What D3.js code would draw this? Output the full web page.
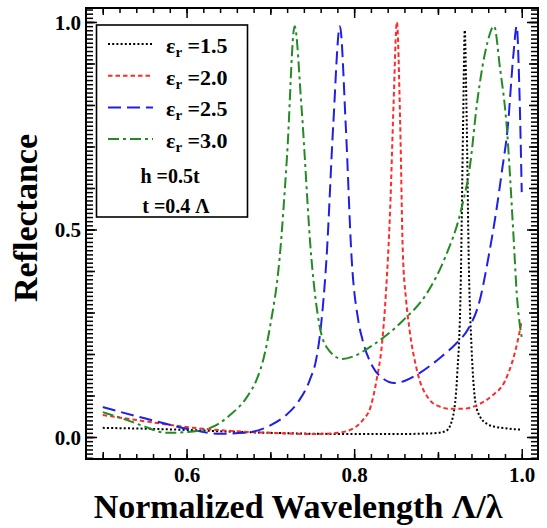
<!DOCTYPE html>
<html>
<head>
<meta charset="utf-8">
<script src="https://cdn.jsdelivr.net/npm/d3@7"></script>
<style>
  body { margin: 0; background: #fff; }
  svg text { font-family: "Liberation Serif", "Times New Roman", serif; font-weight: bold; }
</style>
</head>
<body>
<div id="chart"></div>
<script>
// Reflectance vs normalized wavelength, one series per permittivity
var eps15X = [0.50, 0.55, 0.60, 0.65, 0.70, 0.75, 0.80, 0.85, 0.88, 0.90, 0.91, 0.918, 0.923, 0.927, 0.930, 0.932, 0.934, 0.937, 0.940, 0.945, 0.950, 0.960, 0.970, 0.980, 0.990, 1.000];
var eps15Y = [0.022, 0.020, 0.017, 0.013, 0.010, 0.008, 0.007, 0.007, 0.008, 0.010, 0.015, 0.05, 0.15, 0.35, 0.75, 0.98, 0.80, 0.40, 0.22, 0.08, 0.05, 0.030, 0.024, 0.021, 0.019, 0.018];

var eps20X = [0.50, 0.55, 0.60, 0.65, 0.70, 0.75, 0.78, 0.80, 0.81, 0.82, 0.827, 0.833, 0.838, 0.843, 0.847, 0.851, 0.855, 0.858, 0.862, 0.866, 0.875, 0.89, 0.90, 0.915, 0.93, 0.95, 0.965, 0.98, 0.99, 0.995, 1.00];
var eps20Y = [0.053, 0.038, 0.024, 0.015, 0.010, 0.007, 0.010, 0.022, 0.040, 0.075, 0.14, 0.22, 0.35, 0.55, 0.80, 1.00, 0.75, 0.45, 0.33, 0.26, 0.16, 0.09, 0.075, 0.068, 0.068, 0.080, 0.10, 0.135, 0.19, 0.23, 0.28];

var eps25X = [0.50, 0.55, 0.60, 0.64, 0.67, 0.70, 0.72, 0.735, 0.747, 0.755, 0.760, 0.767, 0.775, 0.783, 0.790, 0.797, 0.805, 0.81, 0.822, 0.835, 0.848, 0.86, 0.878, 0.902, 0.922, 0.936, 0.95, 0.96, 0.97, 0.977, 0.983, 0.99, 0.994, 0.997, 1.00];
var eps25Y = [0.072, 0.045, 0.020, 0.008, 0.010, 0.028, 0.055, 0.09, 0.137, 0.19, 0.26, 0.43, 0.75, 0.99, 0.75, 0.43, 0.28, 0.234, 0.17, 0.14, 0.13, 0.135, 0.154, 0.19, 0.226, 0.26, 0.33, 0.43, 0.55, 0.65, 0.74, 0.92, 0.99, 0.85, 0.59];

var eps30X = [0.50, 0.53, 0.55, 0.576, 0.60, 0.628, 0.652, 0.672, 0.684, 0.692, 0.70, 0.711, 0.72, 0.729, 0.737, 0.749, 0.759, 0.767, 0.786, 0.80, 0.819, 0.858, 0.887, 0.908, 0.928, 0.938, 0.947, 0.959, 0.967, 0.974, 0.982, 0.99, 0.994, 1.00];
var eps30Y = [0.060, 0.040, 0.025, 0.010, 0.012, 0.022, 0.053, 0.096, 0.14, 0.19, 0.27, 0.43, 0.68, 0.99, 0.80, 0.43, 0.265, 0.217, 0.188, 0.195, 0.217, 0.28, 0.347, 0.43, 0.55, 0.65, 0.81, 0.95, 0.99, 0.89, 0.75, 0.49, 0.347, 0.24];

var seriesNames = ["1.5", "2.0", "2.5", "3.0"];
var seriesColors = ["#000000", "#ff2a2a", "#1f1fe8", "#238b23"];
var seriesDashes = ["2,2.2", "4.5,3", "13,6", "11,4,3,4"];
var seriesX = [eps15X, eps20X, eps25X, eps30X];
var seriesY = [eps15Y, eps20Y, eps25Y, eps30Y];

var xTickLabels = [0.6, 0.8, 1.0];
var yTickLabels = [0.0, 0.5, 1.0];

var W = 547, H = 528;
var plotL = 86, plotT = 8, plotR = 538, plotB = 459;

var svg = d3.select("#chart").append("svg")
   .attr("width", W)
   .attr("height", H);

var xScale = d3.scaleLinear().domain([0.48, 1.0194]).range([plotL, plotR]);
var yScale = d3.scaleLinear().domain([-0.053, 1.0337]).range([plotB, plotT]);

// tick sets
var xMinor = d3.range(0, 28).map(function (i) { return +(0.48 + i * 0.02).toFixed(2); })
   .filter(function (v) { return v > 0.48 && v < 1.019; });
var xMid = [0.5, 0.7, 0.9];
var yMinor = d3.range(-5, 104).map(function (i) { return +(i * 0.01).toFixed(2); })
   .filter(function (v) { return v > -0.053 && v < 1.033; });
var yMid = d3.range(0, 11).map(function (i) { return +(i * 0.1).toFixed(1); });

function addAxis(axisFn, scale, ticks, len, transform, labels) {
   var ax = axisFn(scale).tickValues(ticks).tickSize(-len).tickSizeOuter(0);
   if (!labels) ax.tickFormat("");
   else ax.tickFormat(d3.format(".1f")).tickPadding(8);
   var g = svg.append("g")
      .attr("transform", transform)
      .call(ax);
   g.select(".domain").remove();
   g.selectAll("line").attr("stroke", "#000").attr("stroke-width", 1.5);
   return g;
}

// curves
var line = d3.line()
   .x(function (d) { return xScale(d[0]); })
   .y(function (d) { return yScale(d[1]); })
   .curve(d3.curveMonotoneX);

seriesNames.forEach(function (name, i) {
   var pts = seriesX[i].map(function (x, j) { return [x, seriesY[i][j]]; });
   svg.append("path")
      .datum(pts)
      .attr("fill", "none")
      .attr("stroke", seriesColors[i])
      .attr("stroke-width", 2)
      .attr("stroke-dasharray", seriesDashes[i])
      .attr("d", line);
});

// legend
var legend = svg.append("g");
legend.append("rect")
   .attr("x", 96.5).attr("y", 25)
   .attr("width", 151).attr("height", 192)
   .attr("fill", "#fff")
   .attr("stroke", "#000")
   .attr("stroke-width", 1.6);

seriesNames.forEach(function (name, i) {
   var by = 53 + i * 31.7;
   legend.append("line")
      .attr("x1", 108).attr("x2", 153)
      .attr("y1", by - 9).attr("y2", by - 9)
      .attr("stroke", seriesColors[i])
      .attr("stroke-width", 2)
      .attr("stroke-dasharray", seriesDashes[i]);
   var t = legend.append("text")
      .attr("x", 166).attr("y", by)
      .attr("font-size", 22)
      .attr("fill", "#000");
   t.append("tspan").text("ε");
   t.append("tspan").attr("font-size", 15).attr("dy", 4).text("r");
   t.append("tspan").attr("dy", -4).text(" =" + name);
});

legend.append("text")
   .attr("x", 170).attr("y", 183)
   .attr("text-anchor", "middle")
   .attr("font-size", 20)
   .text("h =0.5t");
legend.append("text")
   .attr("x", 176).attr("y", 213)
   .attr("text-anchor", "middle")
   .attr("font-size", 20)
   .text("t =0.4 Λ");

// bottom / top
addAxis(d3.axisBottom, xScale, xMinor, 5, "translate(0," + plotB + ")", false);
addAxis(d3.axisBottom, xScale, xMid, 7, "translate(0," + plotB + ")", false);
var gx = addAxis(d3.axisBottom, xScale, xTickLabels, 10, "translate(0," + plotB + ")", true);
gx.selectAll("text").attr("font-size", 21).attr("fill", "#000").attr("y", 23).attr("dy", 0);
addAxis(d3.axisTop, xScale, xMinor, 5, "translate(0," + plotT + ")", false);
addAxis(d3.axisTop, xScale, xMid, 7, "translate(0," + plotT + ")", false);
addAxis(d3.axisTop, xScale, xTickLabels, 10, "translate(0," + plotT + ")", false);

// left / right
addAxis(d3.axisLeft, yScale, yMinor, 7, "translate(" + plotL + ",0)", false);
addAxis(d3.axisLeft, yScale, yMid, 9, "translate(" + plotL + ",0)", false);
var gy = addAxis(d3.axisLeft, yScale, yTickLabels, 11, "translate(" + plotL + ",0)", true);
gy.selectAll("text").attr("font-size", 21).attr("fill", "#000").attr("x", -5).attr("dy", "0.35em");
addAxis(d3.axisRight, yScale, yMinor, 7, "translate(" + plotR + ",0)", false);
addAxis(d3.axisRight, yScale, yMid, 9, "translate(" + plotR + ",0)", false);
addAxis(d3.axisRight, yScale, yTickLabels, 11, "translate(" + plotR + ",0)", false);

// frame
svg.append("rect")
   .attr("x", plotL).attr("y", plotT)
   .attr("width", plotR - plotL).attr("height", plotB - plotT)
   .attr("fill", "none")
   .attr("stroke", "#000")
   .attr("stroke-width", 2);

// axis titles
svg.append("text")
   .attr("transform", "translate(37,218) rotate(-90)")
   .attr("text-anchor", "middle")
   .attr("font-size", 34)
   .attr("fill", "#000")
   .text("Reflectance");

svg.append("text")
   .attr("x", 298).attr("y", 518)
   .attr("text-anchor", "middle")
   .attr("font-size", 34)
   .attr("fill", "#000")
   .text("Normalized Wavelength Λ/λ");
</script>
</body>
</html>
